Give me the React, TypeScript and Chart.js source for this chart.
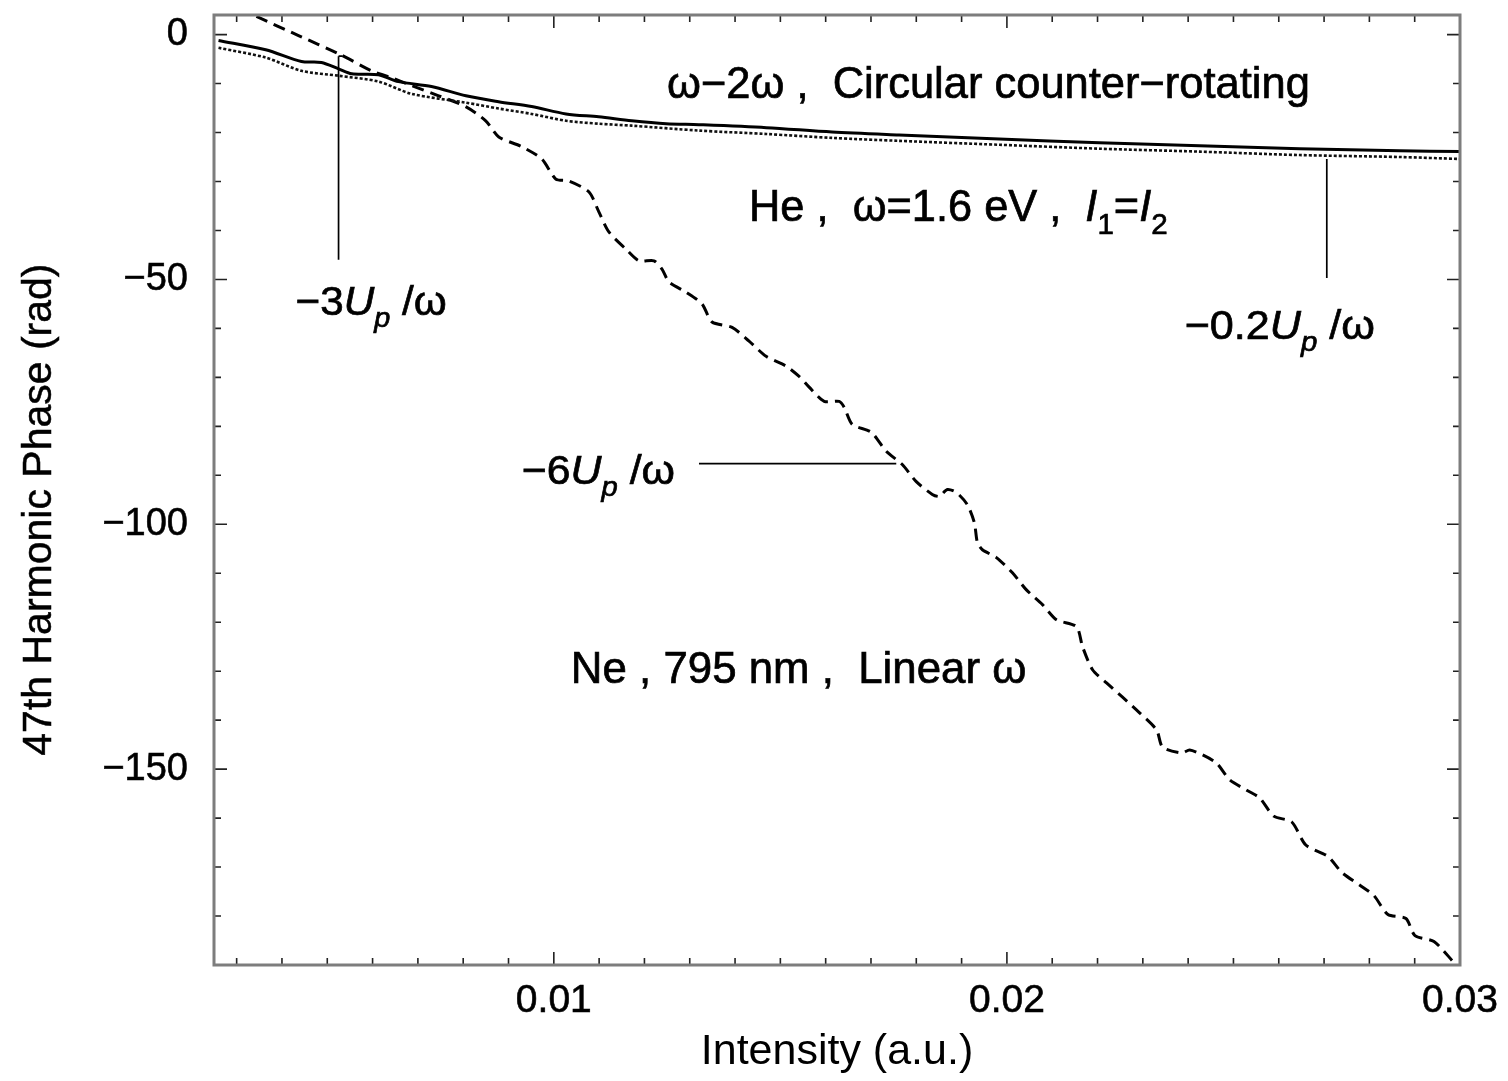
import React, { useEffect, useRef } from 'react';
import { Chart, registerables } from 'chart.js';

Chart.register(...registerables);

// ---------- axis ranges & ticks ----------
const X_MIN = 0.0025;
const X_MAX = 0.03;
const Y_MIN = -190;
const Y_MAX = 4;

const xTickValues = [
  0.003, 0.004, 0.005, 0.006, 0.007, 0.008, 0.009, 0.01,
  0.011, 0.012, 0.013, 0.014, 0.015, 0.016, 0.017, 0.018, 0.019, 0.02,
  0.021, 0.022, 0.023, 0.024, 0.025, 0.026, 0.027, 0.028, 0.029, 0.03,
];
const xTickLabels = [
  '', '', '', '', '', '', '', '0.01',
  '', '', '', '', '', '', '', '', '', '0.02',
  '', '', '', '', '', '', '', '', '', '0.03',
];
const yTickValues = [
  -180, -170, -160, -150, -140, -130, -120, -110, -100,
  -90, -80, -70, -60, -50, -40, -30, -20, -10, 0,
];
const yTickLabels = [
  '', '', '', '\u2212150', '', '', '', '', '\u2212100',
  '', '', '', '', '\u221250', '', '', '', '', '0',
];

// ---------- series: He, circular counter-rotating (solid) ----------
const heSolidX = [
  0.0026, 0.00364, 0.00443, 0.00487, 0.00525, 0.00554, 0.00613, 0.00657,
  0.0073, 0.00806, 0.00878, 0.00951, 0.01027, 0.01099, 0.01172, 0.01248,
  0.0132, 0.01469, 0.01614, 0.01762, 0.01983, 0.02204, 0.02425, 0.02646,
  0.02867, 0.03,
];
const heSolidY = [
  -1.2, -3.1, -5.5, -5.7, -7.0, -8.0, -8.2, -9.6,
  -10.6, -12.5, -13.7, -14.7, -16.2, -16.8, -17.6, -18.2,
  -18.4, -19.0, -19.9, -20.5, -21.3, -22.1, -22.7, -23.3,
  -23.7, -23.9,
];

// ---------- series: He (dotted) ----------
const heDottedX = [
  0.0026, 0.00364, 0.00443, 0.00525, 0.00613, 0.00686, 0.00806, 0.00878,
  0.00951, 0.01027, 0.01099, 0.01172, 0.0132, 0.01469, 0.01614, 0.01762,
  0.01983, 0.02204, 0.02425, 0.02646, 0.02867, 0.03,
];
const heDottedY = [
  -2.7, -4.7, -7.4, -8.4, -9.6, -12.1, -13.9, -15.1,
  -16.2, -17.6, -18.2, -18.6, -19.6, -20.3, -21.1, -21.7,
  -22.5, -23.3, -23.9, -24.6, -25.0, -25.4,
];

// ---------- series: Ne, 795 nm, linear (dashed) ----------
const neX = [
  0.003436, 0.004365, 0.005249, 0.005978, 0.006354, 0.006862, 0.007459, 0.008055,
  0.008497, 0.008785, 0.009293, 0.009735, 0.010044, 0.010331, 0.010773, 0.010994,
  0.011215, 0.011591, 0.011878, 0.01221, 0.012387, 0.012541, 0.012917, 0.013271,
  0.013492, 0.013934, 0.014309, 0.014685, 0.015127, 0.015414, 0.015635, 0.015967,
  0.016298, 0.016409, 0.016586, 0.017006, 0.017337, 0.017691, 0.018, 0.018354,
  0.018508, 0.018685, 0.018884, 0.019127, 0.019282, 0.019348, 0.019459, 0.019768,
  0.020122, 0.020431, 0.020785, 0.021094, 0.021536, 0.021669, 0.02189, 0.022199,
  0.022552, 0.022928, 0.023304, 0.023436, 0.023856, 0.024033, 0.02432, 0.02463,
  0.024917, 0.025293, 0.02558, 0.02589, 0.026287, 0.026597, 0.027083, 0.027392,
  0.02779, 0.028099, 0.028409, 0.028807, 0.029006, 0.029425, 0.029867,
];
const neY = [
  3.7, -0.2, -3.9, -7.4, -8.6, -10.4, -12.5, -14.7,
  -17.6, -20.9, -22.9, -25.4, -29.5, -29.9, -32.1, -36.2,
  -40.3, -43.8, -46.2, -46.2, -47.9, -50.5, -52.6, -55.0,
  -58.7, -59.8, -62.6, -65.7, -67.7, -69.8, -72.0, -74.9,
  -74.9, -76.1, -79.6, -81.2, -85.1, -87.8, -91.3, -93.9,
  -94.3, -92.9, -93.5, -96.0, -99.7, -103.7, -105.2, -106.8,
  -109.9, -113.4, -116.4, -119.5, -120.9, -125.0, -129.7, -132.4,
  -135.3, -138.5, -142.0, -145.5, -146.7, -146.1, -147.1, -148.8,
  -152.2, -154.3, -155.9, -159.6, -160.8, -165.5, -167.8, -171.1,
  -173.7, -175.8, -179.7, -180.5, -184.0, -185.2, -189.5,
];

// ---------- annotations (data coordinates) ----------
const pointerLines = [
  { x1: 0.005249, y1: -4.4, x2: 0.005249, y2: -46.0 },
  { x1: 0.005249, y1: -4.4, x2: 0.00534, y2: -4.4 },
  { x1: 0.02706, y1: -25.4, x2: 0.02706, y2: -49.7 },
  { x1: 0.013204, y1: -87.6, x2: 0.017558, y2: -87.6 },
];

type Seg = { t: string; it?: boolean; sub?: boolean };
const textLabels: { segs: Seg[]; x1: number; x2: number; y: number; size: number }[] = [
  { segs: [{ t: '\u03c9\u22122\u03c9 ,  Circular counter\u2212rotating' }], x1: 0.012497, x2: 0.026685, y: -12.9, size: 44 },
  {
    segs: [
      { t: 'He ,  \u03c9=1.6 eV ,  ' }, { t: 'I', it: true }, { t: '1', sub: true },
      { t: '=' }, { t: 'I', it: true }, { t: '2', sub: true },
    ],
    x1: 0.014309, x2: 0.023547, y: -38.1, size: 44,
  },
  { segs: [{ t: 'Ne , 795 nm ,  Linear \u03c9' }], x1: 0.010376, x2: 0.020431, y: -132.4, size: 44 },
  { segs: [{ t: '\u22123' }, { t: 'U', it: true }, { t: 'p', it: true, sub: true }, { t: ' /\u03c9' }], x1: 0.004298, x2: 0.007635, y: -57.3, size: 41 },
  { segs: [{ t: '\u22126' }, { t: 'U', it: true }, { t: 'p', it: true, sub: true }, { t: ' /\u03c9' }], x1: 0.009293, x2: 0.012674, y: -91.7, size: 41 },
  { segs: [{ t: '\u22120.2' }, { t: 'U', it: true }, { t: 'p', it: true, sub: true }, { t: ' /\u03c9' }], x1: 0.023923, x2: 0.028122, y: -62.2, size: 41 },
];

const FONT = '"Liberation Sans", Arial, Helvetica, sans-serif';
const Y_TITLE = '47th Harmonic Phase (rad)';
const X_TITLE = 'Intensity (a.u.)';

const zip = (xs: number[], ys: number[]) => xs.map((x, i) => ({ x, y: ys[i] }));

function drawRich(ctx: CanvasRenderingContext2D, segs: Seg[], left: number, right: number, baseline: number, size: number) {
  const fontOf = (s: Seg) => `${s.it ? 'italic ' : ''}${s.sub ? Math.round(size * 0.68) : size}px ${FONT}`;
  let w = 0;
  for (const s of segs) {
    ctx.font = fontOf(s);
    w += ctx.measureText(s.t).width;
  }
  const sx = (right - left) / w;
  ctx.save();
  ctx.translate(left, baseline);
  ctx.scale(sx, 1);
  ctx.textBaseline = 'alphabetic';
  ctx.textAlign = 'left';
  ctx.fillStyle = '#000';
  ctx.strokeStyle = '#000';
  ctx.lineWidth = 0.7;
  let x = 0;
  for (const s of segs) {
    ctx.font = fontOf(s);
    const dy = s.sub ? size * 0.3 : 0;
    ctx.fillText(s.t, x, dy);
    ctx.strokeText(s.t, x, dy);
    x += ctx.measureText(s.t).width;
  }
  ctx.restore();
}

const framePlugin = {
  id: 'framePlugin',
  afterDatasetsDraw(chart: any) {
    const { ctx, chartArea: a, scales } = chart;
    const xs = scales.x;
    const ys = scales.y;
    ctx.save();
    // inward ticks on all four sides
    ctx.strokeStyle = '#222';
    ctx.lineWidth = 1.6;
    ctx.beginPath();
    xTickValues.forEach((v, i) => {
      const px = xs.getPixelForValue(v);
      const len = xTickLabels[i] ? 13 : 7;
      ctx.moveTo(px, a.bottom);
      ctx.lineTo(px, a.bottom - len);
      ctx.moveTo(px, a.top);
      ctx.lineTo(px, a.top + len);
    });
    yTickValues.forEach((v, i) => {
      const py = ys.getPixelForValue(v);
      const len = yTickLabels[i] ? 13 : 7;
      ctx.moveTo(a.left, py);
      ctx.lineTo(a.left + len, py);
      ctx.moveTo(a.right, py);
      ctx.lineTo(a.right - len, py);
    });
    ctx.stroke();
    // frame
    ctx.strokeStyle = '#7d7d7d';
    ctx.lineWidth = 3;
    ctx.strokeRect(a.left, a.top, a.right - a.left, a.bottom - a.top);
    // pointer lines
    ctx.strokeStyle = '#000';
    ctx.lineWidth = 1.7;
    ctx.beginPath();
    for (const l of pointerLines) {
      ctx.moveTo(xs.getPixelForValue(l.x1), ys.getPixelForValue(l.y1));
      ctx.lineTo(xs.getPixelForValue(l.x2), ys.getPixelForValue(l.y2));
    }
    ctx.stroke();
    // annotation texts
    for (const t of textLabels) {
      drawRich(ctx, t.segs, xs.getPixelForValue(t.x1), xs.getPixelForValue(t.x2), ys.getPixelForValue(t.y), t.size);
    }
    // y axis title
    ctx.save();
    ctx.translate(40, ys.getPixelForValue(-97));
    ctx.rotate(-Math.PI / 2);
    ctx.font = `41px ${FONT}`;
    ctx.fillStyle = '#000';
    ctx.strokeStyle = '#000';
    ctx.lineWidth = 0.5;
    ctx.textAlign = 'center';
    ctx.textBaseline = 'middle';
    ctx.fillText(Y_TITLE, 0, 0);
    ctx.strokeText(Y_TITLE, 0, 0);
    ctx.restore();
    ctx.restore();
  },
};

export default function App() {
  const ref = useRef<HTMLCanvasElement | null>(null);
  useEffect(() => {
    if (!ref.current) return;
    const chart = new Chart(ref.current, {
      type: 'line',
      data: {
        datasets: [
          {
            data: zip(heSolidX, heSolidY),
            borderColor: '#000',
            borderWidth: 3,
            pointRadius: 0,
            tension: 0.3,
          },
          {
            data: zip(heDottedX, heDottedY),
            borderColor: '#111',
            borderWidth: 2.6,
            borderDash: [3, 2],
            pointRadius: 0,
            tension: 0.3,
          },
          {
            data: zip(neX, neY),
            borderColor: '#000',
            borderWidth: 3,
            borderDash: [12, 7],
            pointRadius: 0,
            tension: 0.25,
          },
        ],
      },
      options: {
        animation: false,
        responsive: false,
        devicePixelRatio: 1,
        layout: { padding: { top: 15, right: 48, left: 0, bottom: 0 } },
        plugins: { legend: { display: false }, tooltip: { enabled: false } },
        scales: {
          x: {
            type: 'linear',
            min: X_MIN,
            max: X_MAX,
            afterBuildTicks: (s: any) => {
              s.ticks = xTickValues.map((v) => ({ value: v }));
            },
            afterFit: (s: any) => {
              s.height = 116;
              s.paddingLeft = 0;
              s.paddingRight = 0;
            },
            grid: { display: false, drawTicks: false },
            border: { display: false },
            ticks: {
              autoSkip: false,
              maxRotation: 0,
              minRotation: 0,
              padding: 13,
              color: '#000',
              textStrokeColor: '#000',
              textStrokeWidth: 0.6,
              font: { family: FONT, size: 39 },
              callback: (_v: any, i: number) => xTickLabels[i],
            },
            title: {
              display: true,
              text: X_TITLE,
              color: '#000',
              font: { family: FONT, size: 43 },
              padding: { top: 0, bottom: 3 },
            },
          },
          y: {
            type: 'linear',
            min: Y_MIN,
            max: Y_MAX,
            afterBuildTicks: (s: any) => {
              s.ticks = yTickValues.map((v) => ({ value: v }));
            },
            afterFit: (s: any) => {
              s.width = 214;
              s.paddingTop = 0;
              s.paddingBottom = 0;
            },
            grid: { display: false, drawTicks: false },
            border: { display: false },
            ticks: {
              autoSkip: false,
              padding: 26,
              color: '#000',
              textStrokeColor: '#000',
              textStrokeWidth: 0.6,
              font: { family: FONT, size: 38 },
              callback: (_v: any, i: number) => yTickLabels[i],
            },
          },
        },
      },
      plugins: [framePlugin],
    });
    return () => chart.destroy();
  }, []);
  return (
    <div style={{ position: 'absolute', left: 0, top: 0, width: 1508, height: 1081, background: '#fff' }}>
      <canvas ref={ref} width={1508} height={1081} style={{ display: 'block' }} />
    </div>
  );
}
